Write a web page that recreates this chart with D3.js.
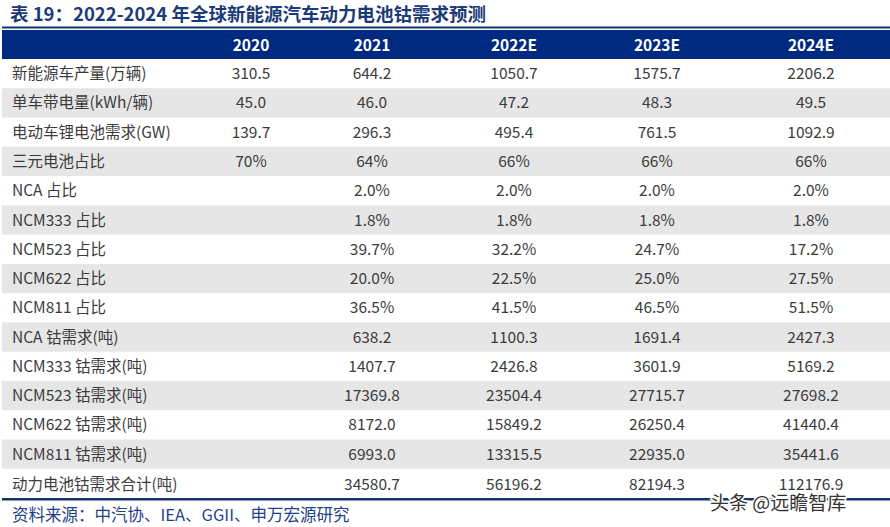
<!DOCTYPE html>
<html><head><meta charset="utf-8">
<script src="https://cdn.jsdelivr.net/npm/d3@7/dist/d3.min.js"></script>
<style>body{margin:0;background:#fff}svg{display:block}</style>
</head><body>
<script>
const title = "表 19：2022-2024 年全球新能源汽车动力电池钴需求预测";
const source = "资料来源：中汽协、IEA、GGII、申万宏源研究";
const watermark = "头条 @远瞻智库";
const years = ["2020", "2021", "2022E", "2023E", "2024E"];
const rowLabels = ["新能源车产量(万辆)", "单车带电量(kWh/辆)", "电动车锂电池需求(GW)", "三元电池占比", "NCA 占比", "NCM333 占比", "NCM523 占比", "NCM622 占比", "NCM811 占比", "NCA 钴需求(吨)", "NCM333 钴需求(吨)", "NCM523 钴需求(吨)", "NCM622 钴需求(吨)", "NCM811 钴需求(吨)", "动力电池钴需求合计(吨)"];
const v2020 = ["310.5", "45.0", "139.7", "70%", "", "", "", "", "", "", "", "", "", "", ""];
const v2021 = ["644.2", "46.0", "296.3", "64%", "2.0%", "1.8%", "39.7%", "20.0%", "36.5%", "638.2", "1407.7", "17369.8", "8172.0", "6993.0", "34580.7"];
const v2022 = ["1050.7", "47.2", "495.4", "66%", "2.0%", "1.8%", "32.2%", "22.5%", "41.5%", "1100.3", "2426.8", "23504.4", "15849.2", "13315.5", "56196.2"];
const v2023 = ["1575.7", "48.3", "761.5", "66%", "2.0%", "1.8%", "24.7%", "25.0%", "46.5%", "1691.4", "3601.9", "27715.7", "26250.4", "22935.0", "82194.3"];
const v2024 = ["2206.2", "49.5", "1092.9", "66%", "2.0%", "1.8%", "17.2%", "27.5%", "51.5%", "2427.3", "5169.2", "27698.2", "41440.4", "35441.6", "112176.9"];
const columns = [v2020, v2021, v2022, v2023, v2024];

const W = 890, H = 527;
const font = "'Noto Sans CJK SC','Microsoft YaHei',sans-serif";
const svg = d3.select("body").append("svg").attr("width", W).attr("height", H);

const navy = "#17336b", band = "#002a7f";
const tableLeft = 2, tableRight = 890;

// title
svg.append("text").attr("x", 10).attr("y", 21).text(title)
  .attr("font-family", font).attr("font-size", 18.5).attr("font-weight", "bold").attr("fill", "#1b3a78");

// top rule and header band
svg.append("rect").attr("x", tableLeft).attr("y", 26.5).attr("width", tableRight - tableLeft).attr("height", 2).attr("fill", navy);
svg.append("rect").attr("x", tableLeft).attr("y", 30).attr("width", tableRight - tableLeft).attr("height", 29).attr("fill", band);

const colCenters = [251, 372, 514, 657, 811];
const x = d3.scaleOrdinal().domain(years).range(colCenters);

svg.append("g").selectAll("text").data(years).join("text")
  .attr("x", d => x(d)).attr("y", 45).attr("dy", "0.36em").attr("text-anchor", "middle")
  .attr("font-family", font).attr("font-size", 15.5).attr("font-weight", "bold").attr("fill", "#fff").text(d => d);

// rows
const y = d3.scaleBand().domain(d3.range(rowLabels.length)).range([59, 498]);
const rowH = y.bandwidth();
const rows = svg.append("g").selectAll("g").data(rowLabels).join("g")
  .attr("transform", (d, i) => `translate(0,${y(i)})`);
rows.filter((d, i) => i % 2 === 1).append("rect")
  .attr("x", tableLeft).attr("y", 0).attr("width", tableRight - tableLeft).attr("height", rowH).attr("fill", "#e6e6e6");
rows.append("text").attr("x", 12).attr("y", (d, i) => i === 14 ? rowH / 2 + 1 : rowH / 2).attr("dy", "0.36em")
  .attr("font-family", font).attr("font-size", 15.5).attr("fill", "#3c3c3c").text(d => d);
years.forEach((yr, c) => {
  rows.append("text").attr("x", x(yr)).attr("y", (d, i) => i === 14 ? rowH / 2 + 1 : rowH / 2).attr("dy", "0.36em")
    .attr("text-anchor", "middle").attr("font-family", font).attr("font-size", 15.5).attr("fill", "#3c3c3c")
    .text((d, i) => columns[c][i]);
});

// bottom rule
svg.append("rect").attr("x", tableLeft).attr("y", 498).attr("width", tableRight - tableLeft).attr("height", 2.5).attr("fill", navy);

// source
svg.append("text").attr("x", 12).attr("y", 515).attr("dy", "0.36em").text(source)
  .attr("font-family", font).attr("font-size", 16.5).attr("fill", "#1f3f8a");

// watermark
svg.append("text").attr("x", 710).attr("y", 503).attr("dy", "0.36em").text(watermark)
  .attr("font-family", font).attr("font-size", 19).attr("fill", "#333")
  .attr("stroke", "#fff").attr("stroke-width", 3).attr("paint-order", "stroke");
</script>
</body></html>
